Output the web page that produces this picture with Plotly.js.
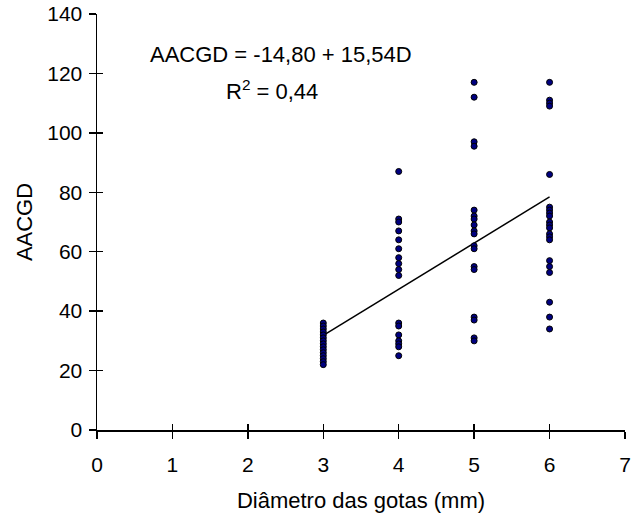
<!DOCTYPE html>
<html>
<head>
<meta charset="utf-8">
<script src="https://cdn.plot.ly/plotly-3.0.1.min.js"></script>
<style>html,body{margin:0;padding:0;background:#fff}#chart{width:632px;height:519px}</style>
</head>
<body>
<div id="chart"></div>
<script>
// Observed values (diameter of drops, mm) and AACGD
const d3 = [36, 35, 34, 33, 32, 31, 30, 29, 28, 27, 26, 25, 24, 23, 22];
const d4 = [87, 71, 70, 67, 64, 61, 58, 56, 54, 52, 36, 35, 32, 30, 29, 28, 25];
const d5 = [117, 112, 97, 95.5, 74, 72, 71, 69, 67, 66, 62, 61, 55, 54, 38, 37, 31, 30];
const d6 = [117, 111, 110, 109, 86, 75, 74, 73, 72, 70, 69, 68, 66, 65, 64, 57, 55, 53, 43, 38, 34];
const diameters = [3, 4, 5, 6];
const groups = [d3, d4, d5, d6];

// Regression: AACGD = -14,80 + 15,54D
const intercept = -14.80;
const slope = 15.54;
const lineX = [3, 6];

const xTicks = [0, 1, 2, 3, 4, 5, 6, 7];
const yTicks = [0, 20, 40, 60, 80, 100, 120, 140];

const px = [], py = [];
groups.forEach((g, i) => g.forEach(v => { px.push(diameters[i]); py.push(v); }));

const FONT = 'Liberation Sans, Arial, sans-serif';

const traces = [
  {
    x: lineX, y: lineX.map(x => intercept + slope * x),
    mode: 'lines', line: {color: '#000', width: 1.5},
    hoverinfo: 'skip', showlegend: false, cliponaxis: false
  },
  {
    x: px, y: py, mode: 'markers',
    marker: {color: '#000080', size: 6, line: {color: '#000', width: 1}},
    showlegend: false, cliponaxis: false
  },
  {
    x: [0], y: [0], xaxis: 'x2', yaxis: 'y2', mode: 'markers',
    marker: {opacity: 0}, hoverinfo: 'skip', showlegend: false
  }
];

const axBase = {
  showgrid: false, zeroline: false, showline: true,
  linecolor: '#000', linewidth: 1.5, tickcolor: '#000', tickwidth: 1.5,
  tickfont: {family: FONT, size: 21, color: '#000'}, fixedrange: true
};

const layout = {
  width: 632, height: 519,
  margin: {l: 97, r: 7, t: 14, b: 89},
  paper_bgcolor: '#fff', plot_bgcolor: '#fff',
  font: {family: FONT, color: '#000'},
  xaxis: Object.assign({}, axBase, {
    range: [0, 7], tickmode: 'array', tickvals: xTicks, ticktext: xTicks.map(String),
    ticks: 'outside', ticklen: 7, ticklabelstandoff: 8,
    title: {text: 'Diâmetro das gotas (mm)', font: {family: FONT, size: 22, color: '#000'}, standoff: 18}
  }),
  yaxis: Object.assign({}, axBase, {
    range: [0, 140], tickmode: 'array', tickvals: yTicks, ticktext: yTicks.map(String),
    ticks: 'outside', ticklen: 7, ticklabelstandoff: 2,
    title: {text: 'AACGD', font: {family: FONT, size: 22, color: '#000'}, standoff: 8}
  }),
  xaxis2: Object.assign({}, axBase, {
    overlaying: 'x', anchor: 'y2', range: [0, 7], tickmode: 'array', tickvals: xTicks,
    ticks: 'inside', ticklen: 6, showticklabels: false, showline: false
  }),
  yaxis2: Object.assign({}, axBase, {
    overlaying: 'y', anchor: 'x2', range: [0, 140], tickmode: 'array', tickvals: yTicks,
    ticks: 'inside', ticklen: 6, showticklabels: false, showline: false
  }),
  annotations: [
    {x: 2.44, y: 126.3, xref: 'x', yref: 'y', text: 'AACGD = -14,80 + 15,54D',
     showarrow: false, font: {family: FONT, size: 22, color: '#000'}},
    {x: 2.32, y: 114.5, xref: 'x', yref: 'y', text: 'R<sup>2</sup> = 0,44',
     showarrow: false, font: {family: FONT, size: 22, color: '#000'}}
  ]
};

Plotly.newPlot('chart', traces, layout, {displayModeBar: false, staticPlot: true});
</script>
</body>
</html>
